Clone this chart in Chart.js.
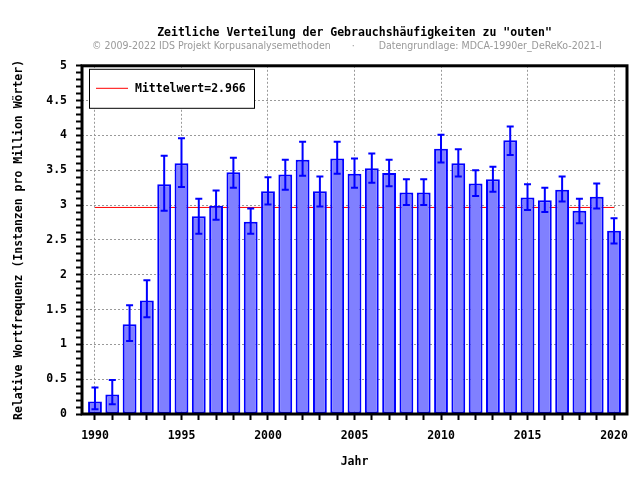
<!DOCTYPE html>
<html>
<head>
<meta charset="utf-8">
<script src="https://cdn.jsdelivr.net/npm/chart.js@4"></script>
<style>
  body { margin: 0; background: #fff; }
  canvas { display: block; }
</style>
</head>
<body>
<canvas id="grafik" width="640" height="480"></canvas>
<script>
// Daten
const jahre = [1990, 1991, 1992, 1993, 1994, 1995, 1996, 1997, 1998, 1999,
  2000, 2001, 2002, 2003, 2004, 2005, 2006, 2007, 2008, 2009,
  2010, 2011, 2012, 2013, 2014, 2015, 2016, 2017, 2018, 2019, 2020];
const werte = [0.18, 0.28, 1.29, 1.63, 3.30, 3.60, 2.84, 2.99, 3.47, 2.76,
  3.20, 3.44, 3.65, 3.20, 3.67, 3.45, 3.53, 3.46, 3.18, 3.18,
  3.81, 3.60, 3.31, 3.37, 3.93, 3.11, 3.07, 3.22, 2.92, 3.12, 2.63];
const untere = [0.07, 0.14, 1.05, 1.39, 2.92, 3.26, 2.59, 2.79, 3.25, 2.59,
  3.01, 3.22, 3.42, 2.98, 3.45, 3.25, 3.32, 3.27, 3.00, 3.00,
  3.61, 3.41, 3.13, 3.19, 3.72, 2.93, 2.90, 3.05, 2.74, 2.95, 2.45];
const obere = [0.38, 0.49, 1.56, 1.92, 3.71, 3.96, 3.09, 3.21, 3.68, 2.95,
  3.40, 3.65, 3.91, 3.41, 3.91, 3.67, 3.74, 3.65, 3.37, 3.37,
  4.01, 3.80, 3.50, 3.55, 4.13, 3.30, 3.25, 3.41, 3.09, 3.31, 2.81];
const mittelwert = 2.966;

const nb = n => '\u00a0'.repeat(n);
const titel = 'Zeitliche Verteilung der Gebrauchshäufigkeiten zu "outen"';
const untertitel = '© 2009-2022 IDS Projekt Korpusanalysemethoden' + nb(7) + '·' + nb(8) +
  'Datengrundlage: MDCA-1990er_DeReKo-2021-I' + nb(5);
const legendeText = 'Mittelwert=' + mittelwert;

const mono = '"DejaVu Sans Mono", monospace';
const fontMono = { family: mono, size: 11.5, weight: 'bold' };

// Fehlerbalken ueber die Skalen zeichnen
const fehlerbalken = {
  id: 'fehlerbalken',
  afterDatasetsDraw(chart) {
    const ctx = chart.ctx;
    const xs = chart.scales.x, ys = chart.scales.y;
    ctx.save();
    ctx.strokeStyle = '#0000ff';
    ctx.lineWidth = 2;
    jahre.forEach((j, i) => {
      const x = xs.getPixelForValue(j);
      const y1 = ys.getPixelForValue(untere[i]);
      const y2 = ys.getPixelForValue(obere[i]);
      ctx.beginPath();
      ctx.moveTo(x, y1); ctx.lineTo(x, y2);
      ctx.moveTo(x - 3.5, y1); ctx.lineTo(x + 3.5, y1);
      ctx.moveTo(x - 3.5, y2); ctx.lineTo(x + 3.5, y2);
      ctx.stroke();
    });
    ctx.restore();
  }
};

// Rahmen und Legende
const rahmen = {
  id: 'rahmen',
  afterDraw(chart) {
    const ctx = chart.ctx;
    const a = chart.chartArea;
    ctx.save();
    ctx.strokeStyle = '#000';
    ctx.lineWidth = 3;
    ctx.strokeRect(a.left, a.top, a.right - a.left, a.bottom - a.top);

    // Legende
    ctx.lineWidth = 1;
    ctx.fillStyle = '#fff';
    ctx.fillRect(a.left + 7.5, a.top + 3.5, 165, 39);
    ctx.strokeRect(a.left + 7.5, a.top + 3.5, 165, 39);
    ctx.strokeStyle = '#ff0000';
    ctx.beginPath();
    ctx.moveTo(a.left + 14, a.top + 22.5);
    ctx.lineTo(a.left + 46, a.top + 22.5);
    ctx.stroke();
    ctx.fillStyle = '#000';
    ctx.font = 'bold 11.5px ' + mono;
    ctx.textBaseline = 'middle';
    ctx.fillText(legendeText, a.left + 53, a.top + 23);
    ctx.restore();
  }
};

const istHalb = v => Math.abs(v * 2 - Math.round(v * 2)) < 1e-6;

new Chart(document.getElementById('grafik'), {
  data: {
    datasets: [{
      type: 'bar',
      data: jahre.map((j, i) => ({ x: j, y: werte[i] })),
      backgroundColor: '#8080ff',
      borderColor: '#0000ff',
      borderWidth: 2,
      borderSkipped: false,
      barPercentage: 0.8,
      categoryPercentage: 1,
      order: 1
    }, {
      type: 'line',
      label: legendeText,
      data: [{ x: jahre[0], y: mittelwert }, { x: jahre[jahre.length - 1], y: mittelwert }],
      borderColor: '#ff0000',
      borderWidth: 1,
      pointRadius: 0,
      order: 2
    }]
  },
  options: {
    responsive: false,
    animation: false,
    layout: { padding: { left: 0, right: 13, top: 0, bottom: 0 } },
    plugins: {
      legend: { display: false },
      tooltip: { enabled: false },
      title: {
        display: true,
        text: titel,
        fullSize: false,
        color: '#000',
        font: fontMono,
        padding: { top: 26, bottom: 0 }
      },
      subtitle: {
        display: true,
        text: untertitel,
        fullSize: false,
        color: '#999',
        font: { family: '"Liberation Sans Narrow", "DejaVu Sans Condensed", sans-serif', size: 10.5, lineHeight: 1 },
        padding: { top: 1.5, bottom: 14 }
      }
    },
    scales: {
      x: {
        type: 'linear',
        min: 1989.25,
        max: 2020.75,
        offset: false,
        afterFit: s => { s.height = 66; },
        border: { display: false, dash: [2, 2] },
        grid: {
          offset: false,
          color: c => (c.tick && c.tick.value % 5 === 0) ? '#999' : 'rgba(0,0,0,0)',
          tickColor: '#000',
          tickWidth: 2,
          tickLength: 6
        },
        ticks: {
          stepSize: 1,
          includeBounds: false,
          autoSkip: false,
          maxRotation: 0,
          maxTicksLimit: 100,
          padding: 9,
          color: '#000',
          font: fontMono,
          callback: v => (v % 5 === 0) ? String(v) : ''
        },
        title: {
          display: true,
          text: 'Jahr',
          color: '#000',
          font: fontMono,
          padding: { top: 0, bottom: 11 }
        }
      },
      y: {
        min: 0,
        max: 5,
        afterFit: s => { s.width = 82; },
        border: { display: false, dash: [2, 2] },
        grid: {
          color: c => (c.tick && istHalb(c.tick.value) && c.tick.value > 0 && c.tick.value < 5) ? '#999' : 'rgba(0,0,0,0)',
          tickColor: '#000',
          tickWidth: 2,
          tickLength: 6
        },
        ticks: {
          stepSize: 0.1,
          autoSkip: false,
          maxTicksLimit: 100,
          padding: 9,
          color: '#000',
          font: fontMono,
          callback: v => istHalb(v) ? String(Math.round(v * 2) / 2) : ''
        },
        title: {
          display: true,
          text: 'Relative Wortfrequenz (Instanzen pro Million Wörter)',
          color: '#000',
          font: fontMono,
          padding: { top: 12, bottom: 0 }
        }
      }
    }
  },
  plugins: [fehlerbalken, rahmen]
});
</script>
</body>
</html>
